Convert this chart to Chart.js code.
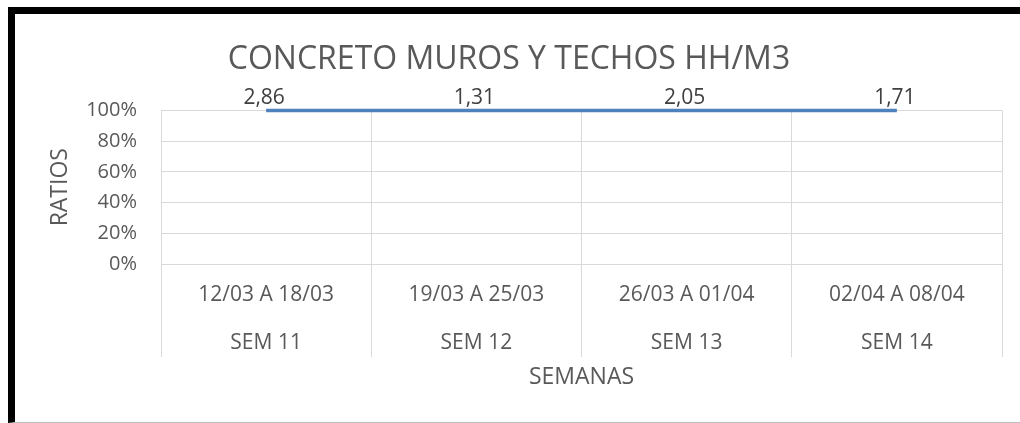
<!DOCTYPE html>
<html lang="es">
<head>
    <meta charset="UTF-8">
    <title>Concreto muros y techos HH/M3</title>
    <script src="https://cdn.jsdelivr.net/npm/chart.js"></script>
    <style>
        html, body { margin: 0; padding: 0; background: #fff; }
        .wrap { position: relative; width: 1020px; height: 423px; overflow: hidden; }
        .frame {
            position: absolute; left: 8px; top: 7px; right: 0; height: 416px;
            box-sizing: border-box;
            border-left: 7px solid #000; border-top: 7px solid #000;
            border-bottom: 1px solid #bfbfbf;
        }
        canvas { position: absolute; left: 0; top: 0; }
    </style>
</head>
<body>
    <div class="wrap">
        <div class="frame"></div>
        <canvas id="myChart" width="1020" height="423"></canvas>
    </div>
    <script>
        const fechas = ['12/03 A 18/03', '19/03 A 25/03', '26/03 A 01/04', '02/04 A 08/04'];
        const semanas = ['SEM 11', 'SEM 12', 'SEM 13', 'SEM 14'];
        const ratios = [2.86, 1.31, 2.05, 1.71];
        const yTicks = [0, 20, 40, 60, 80, 100];

        // 100% stacked line: each point is its share of the category total
        const allSeries = [ratios];
        const shares = ratios.map((v, i) => {
            const total = allSeries.reduce((s, serie) => s + serie[i], 0);
            return v / total * 100;
        });

        const labels = fechas.map((f, i) => [f, semanas[i]]);
        const font = 'Open Sans';
        const gray = '#595959';

        const dataLabels = {
            id: 'dataLabels',
            afterDatasetsDraw(chart) {
                const ctx = chart.ctx;
                const meta = chart.getDatasetMeta(0);
                ctx.save();
                ctx.font = '21px "' + font + '"';
                ctx.fillStyle = '#404040';
                ctx.textAlign = 'center';
                ctx.textBaseline = 'middle';
                meta.data.forEach((pt, i) => {
                    ctx.fillText(ratios[i].toFixed(2).replace('.', ','), pt.x - 2, pt.y - 12);
                });
                ctx.restore();
            }
        };

        new Chart(document.getElementById('myChart').getContext('2d'), {
            type: 'line',
            data: {
                labels: labels,
                datasets: [{
                    label: 'HH/M3',
                    data: shares,
                    borderColor: '#4f81bd',
                    borderWidth: 3.5,
                    pointRadius: 0,
                    tension: 0,
                    clip: false
                }]
            },
            options: {
                responsive: false,
                animation: false,
                devicePixelRatio: 1,
                layout: { padding: { top: 14, left: 16, right: 18, bottom: 0 } },
                plugins: {
                    legend: { display: false },
                    tooltip: { enabled: false },
                    title: {
                        display: true,
                        text: 'CONCRETO MUROS Y TECHOS HH/M3',
                        color: gray,
                        font: { family: font, size: 32, weight: 'normal' },
                        padding: { top: 27, bottom: 31 }
                    }
                },
                scales: {
                    x: {
                        offset: true,
                        grid: { offset: true, color: '#d9d9d9', drawTicks: true, tickLength: 93 },
                        border: { color: '#d9d9d9' },
                        ticks: {
                            color: gray,
                            padding: -86,
                            maxRotation: 0,
                            autoSkip: false,
                            font: { family: font, size: 21, lineHeight: 48 / 21 }
                        },
                        title: {
                            display: true,
                            text: 'SEMANAS',
                            color: gray,
                            font: { family: font, size: 23 },
                            padding: { top: 0, bottom: 32 }
                        },
                        afterFit(scale) { scale.height = 159; }
                    },
                    y: {
                        min: 0,
                        max: 100,
                        afterBuildTicks(scale) { scale.ticks = yTicks.map(v => ({ value: v })); },
                        grid: { color: '#d9d9d9', drawTicks: false },
                        border: { display: false },
                        ticks: {
                            color: gray,
                            padding: 24,
                            font: { family: font, size: 20 },
                            callback: v => v + '%'
                        },
                        title: {
                            display: true,
                            text: 'RATIOS',
                            color: gray,
                            font: { family: font, size: 23 },
                            padding: { top: 31, bottom: 0 }
                        },
                        afterFit(scale) { scale.width = 145; }
                    }
                }
            },
            plugins: [dataLabels]
        });
    </script>
</body>
</html>
